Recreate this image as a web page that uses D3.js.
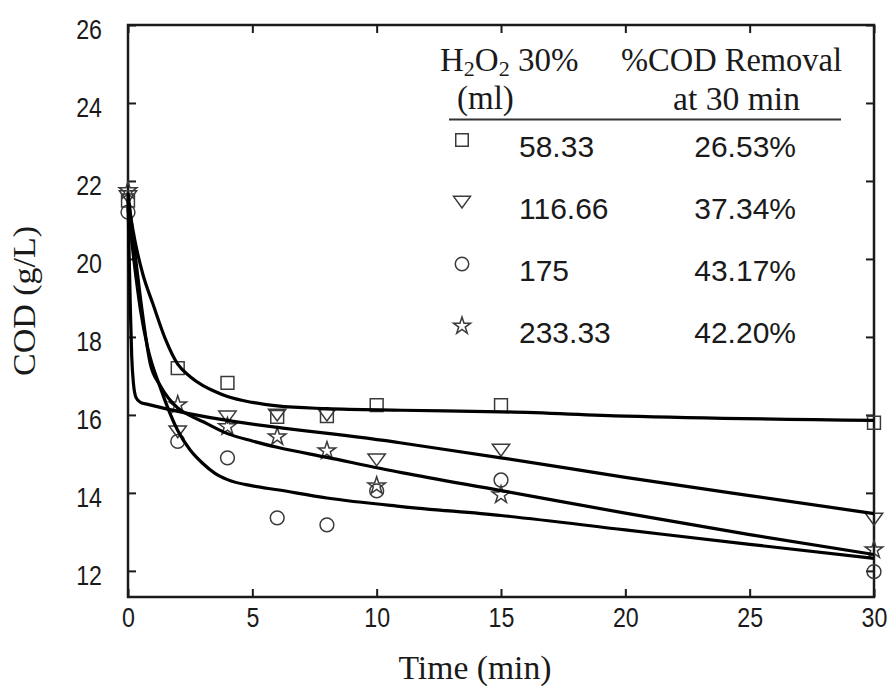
<!DOCTYPE html>
<html>
<head>
<meta charset="utf-8">
<script src="https://cdn.jsdelivr.net/npm/d3@7"></script>
<style>
  body { margin: 0; background: #fff; }
  svg { display: block; }
</style>
</head>
<body>
<div id="chart"></div>
<script>
const width = 889;
const height = 686;

// measured times (min)
const times = [0, 2, 4, 6, 8, 10, 15, 30];

// measured COD (g/L) for each H2O2 dose
const cod58 = [21.5, 17.2, 16.82, 15.95, 15.97, 16.25, 16.25, 15.8];
const cod116 = [21.6, 15.57, 15.95, 16.0, 16.0, 14.85, 15.1, 13.33];
const cod175 = [21.2, 15.32, 14.9, 13.36, 13.18, 14.05, 14.33, 11.98];
const cod233 = [21.75, 16.26, 15.7, 15.44, 15.08, 14.18, 13.95, 12.54];

// fitted model curves
const fit58T = [0, 0.3, 0.6, 1, 1.5, 2, 2.5, 3, 3.5, 4, 5, 6, 8, 11, 15, 20, 30];
const fit58V = [21.5, 20.4, 19.6, 18.85, 17.95, 17.3, 16.98, 16.76, 16.6, 16.47, 16.32, 16.23, 16.16, 16.12, 16.08, 15.97, 15.86];
const fit116T = [0, 0.05, 0.1, 0.15, 0.22, 0.32, 0.5, 0.8, 11, 15, 20, 25, 30];
const fit116V = [21.6, 20.0, 18.6, 17.5, 16.8, 16.45, 16.32, 16.27, 15.28, 14.9, 14.4, 13.93, 13.47];
const fit175T = [0, 0.25, 0.5, 0.8, 1.3, 2, 2.5, 3, 3.5, 4, 5, 6, 8, 11, 15, 20, 25, 30];
const fit175V = [21.3, 19.9, 18.7, 17.7, 16.7, 15.6, 15.1, 14.76, 14.5, 14.34, 14.18, 14.08, 13.87, 13.65, 13.42, 13.05, 12.68, 12.32];
const fit233T = [0, 0.25, 0.5, 0.9, 1.3, 2, 2.5, 3, 4, 5, 6, 8, 11, 15, 20, 25, 30];
const fit233V = [21.7, 20.3, 19.0, 17.3, 16.75, 16.18, 15.98, 15.83, 15.52, 15.33, 15.17, 14.91, 14.52, 14.06, 13.48, 12.93, 12.42];

// legend table
const legendDose = ["58.33", "116.66", "175", "233.33"];
const legendRemoval = ["26.53%", "37.34%", "43.17%", "42.20%"];

const xTicks = [0, 5, 10, 15, 20, 25, 30];
const yTicks = [12, 14, 16, 18, 20, 22, 24, 26];

const margin = { top: 25, right: 15, bottom: 89, left: 128 };
const serif = "'Liberation Serif', 'Times New Roman', serif";
const sans = "'Liberation Sans Narrow', 'Liberation Sans', Arial, sans-serif";
const ink = "#1a1a1a";

const svg = d3.select("#chart")
  .append("svg")
  .attr("width", width)
  .attr("height", height)
  .style("background", "#fff");

const x = d3.scaleLinear().domain([0, 30]).range([margin.left, width - margin.right]);
const y = d3.scaleLinear().domain([11.33, 26]).range([height - margin.bottom, margin.top]);

// downward triangle, a bit wider than tall
const triDown = {
  draw(ctx, size) {
    const r = Math.sqrt(size) / 2;
    ctx.moveTo(-1.35 * r, -0.9 * r);
    ctx.lineTo(1.35 * r, -0.9 * r);
    ctx.lineTo(0, 0.95 * r);
    ctx.closePath();
  }
};

const series = [
  { vals: cod58, fitT: fit58T, fitV: fit58V, type: d3.symbolSquare, size: 165 },
  { vals: cod116, fitT: fit116T, fitV: fit116V, type: triDown, size: 165 },
  { vals: cod175, fitT: fit175T, fitV: fit175V, type: d3.symbolCircle, size: 150 },
  { vals: cod233, fitT: fit233T, fitV: fit233V, type: d3.symbolStar, size: 95 }
];

// axes: ticks point inward on all four sides
const axisStyle = g => {
  g.select(".domain").remove();
  g.selectAll(".tick line").attr("stroke", ink).attr("stroke-width", 2);
};

const tickText = g => g.selectAll(".tick text")
  .attr("fill", ink)
  .style("font-family", sans)
  .style("font-size", "28px")
  .attr("textLength", function () { return this.textContent.length * 12.9; })
  .attr("lengthAdjust", "spacingAndGlyphs");

svg.append("g")
  .attr("transform", `translate(0,${y.range()[0]})`)
  .call(d3.axisBottom(x).tickValues(xTicks).tickSize(-8).tickPadding(10))
  .call(axisStyle)
  .call(tickText);

svg.append("g")
  .attr("transform", `translate(0,${y.range()[1]})`)
  .call(d3.axisTop(x).tickValues(xTicks).tickSize(-8).tickFormat(""))
  .call(axisStyle);

svg.append("g")
  .attr("transform", `translate(${x.range()[0]},0)`)
  .call(d3.axisLeft(y).tickValues(yTicks).tickSize(-8).tickPadding(26))
  .call(axisStyle)
  .call(tickText)
  .call(g => g.selectAll(".tick text").attr("dy", "0.48em"));

svg.append("g")
  .attr("transform", `translate(${x.range()[1]},0)`)
  .call(d3.axisRight(y).tickValues(yTicks).tickSize(-8).tickFormat(""))
  .call(axisStyle);

// frame
svg.append("rect")
  .attr("x", x.range()[0])
  .attr("y", y.range()[1])
  .attr("width", x.range()[1] - x.range()[0])
  .attr("height", y.range()[0] - y.range()[1])
  .attr("fill", "none")
  .attr("stroke", ink)
  .attr("stroke-width", 2.5);

// markers
series.forEach(s => {
  svg.append("g")
    .selectAll("path")
    .data(s.vals)
    .enter()
    .append("path")
    .attr("transform", (d, i) => `translate(${x(times[i])},${y(d)})`)
    .attr("d", d3.symbol().type(s.type).size(s.size))
    .attr("fill", "none")
    .attr("stroke", "#3a3a3a")
    .attr("stroke-width", 1.5);
});

// fitted curves
const line = d3.line()
  .x(d => x(d[0]))
  .y(d => y(d[1]))
  .curve(d3.curveMonotoneX);

series.forEach(s => {
  svg.append("path")
    .datum(s.fitT.map((t, i) => [t, s.fitV[i]]))
    .attr("d", line)
    .attr("fill", "none")
    .attr("stroke", "#000")
    .attr("stroke-width", 3.2)
    .attr("stroke-linejoin", "round");
});

// axis titles
svg.append("text")
  .attr("x", 475)
  .attr("y", 679)
  .attr("text-anchor", "middle")
  .attr("fill", ink)
  .style("font-family", serif)
  .style("font-size", "33px")
  .attr("textLength", 153)
  .attr("lengthAdjust", "spacingAndGlyphs")
  .text("Time (min)");

svg.append("text")
  .attr("transform", "translate(35,301) rotate(-90)")
  .attr("text-anchor", "middle")
  .attr("fill", ink)
  .style("font-family", serif)
  .style("font-size", "31px")
  .attr("textLength", 150)
  .attr("lengthAdjust", "spacingAndGlyphs")
  .text("COD (g/L)");

// legend table
const leg = svg.append("g")
  .attr("fill", ink)
  .style("font-family", serif)
  .style("font-size", "33px");

const h = leg.append("text").attr("x", 440).attr("y", 71);
h.append("tspan").text("H");
h.append("tspan").attr("dy", 5).style("font-size", "22px").text("2");
h.append("tspan").attr("dy", -5).text("O");
h.append("tspan").attr("dy", 5).style("font-size", "22px").text("2");
h.append("tspan").attr("dy", -5).text(" 30%");

leg.append("text").attr("x", 621).attr("y", 71)
  .attr("textLength", 221).attr("lengthAdjust", "spacingAndGlyphs")
  .text("%COD Removal");
leg.append("text").attr("x", 457).attr("y", 109).text("(ml)");
leg.append("text").attr("x", 673).attr("y", 110)
  .attr("textLength", 127).attr("lengthAdjust", "spacingAndGlyphs")
  .text("at 30 min");

leg.append("line")
  .attr("x1", 449).attr("x2", 841)
  .attr("y1", 119.5).attr("y2", 119.5)
  .attr("stroke", "#333")
  .attr("stroke-width", 2);

legendDose.forEach((dose, i) => {
  const cy = 140 + i * 62;
  leg.append("path")
    .attr("transform", `translate(462,${cy})`)
    .attr("d", d3.symbol().type(series[i].type).size(series[i].size * 0.95))
    .attr("fill", "none")
    .attr("stroke", "#3a3a3a")
    .attr("stroke-width", 1.5);
  leg.append("text")
    .attr("x", 519)
    .attr("y", cy + 17)
    .style("font-family", "'Liberation Sans', Arial, sans-serif")
    .style("font-size", "30px")
    .text(dose);
  leg.append("text")
    .attr("x", 796)
    .attr("y", cy + 17)
    .attr("text-anchor", "end")
    .style("font-family", "'Liberation Sans', Arial, sans-serif")
    .style("font-size", "30px")
    .text(legendRemoval[i]);
});
</script>
</body>
</html>
